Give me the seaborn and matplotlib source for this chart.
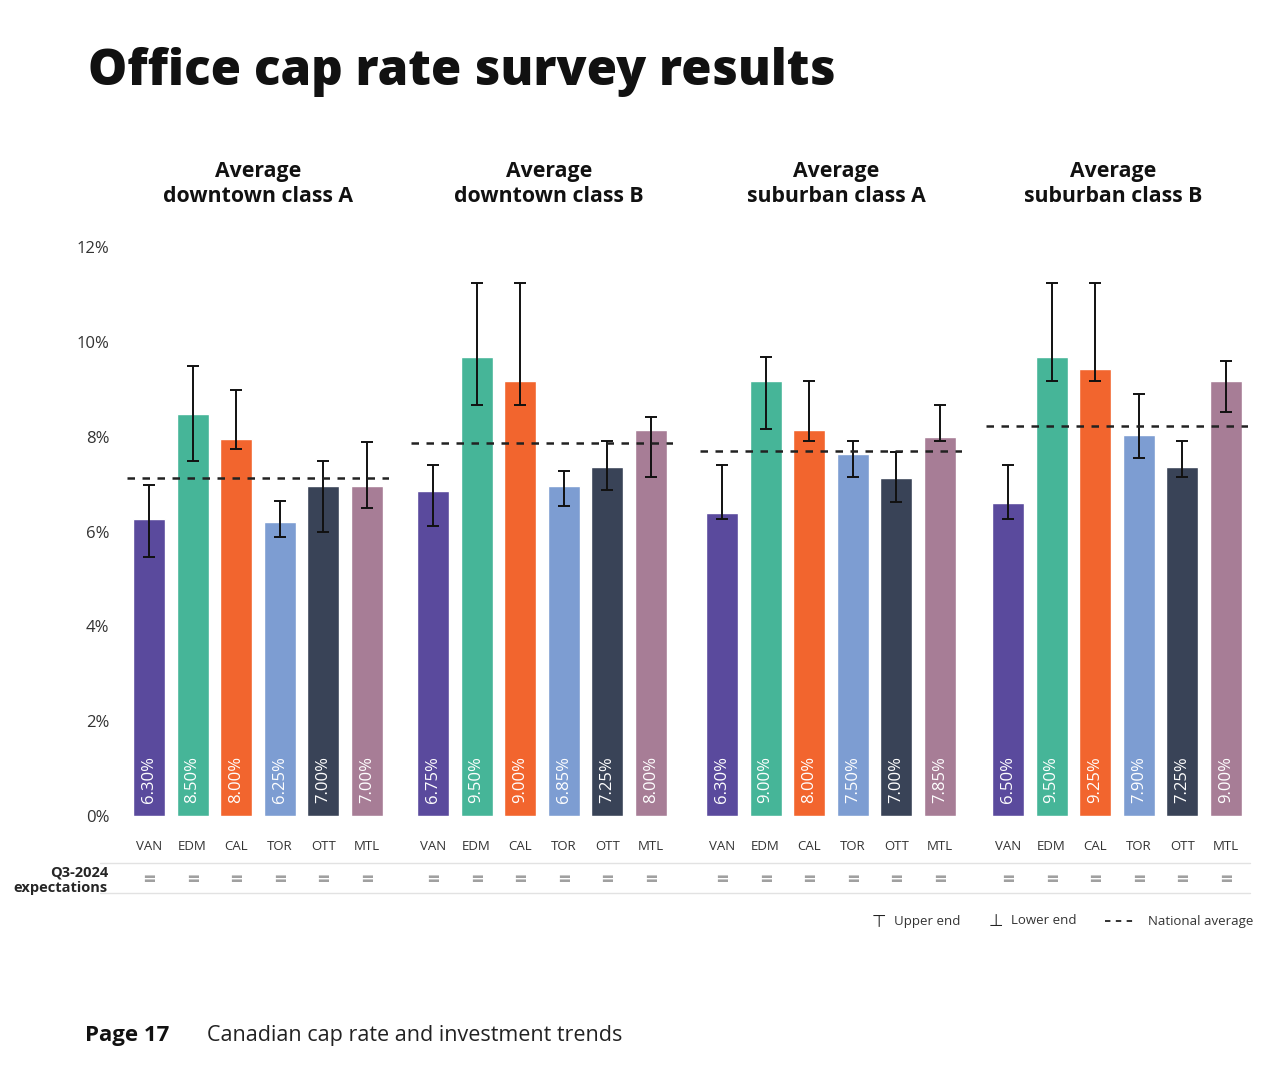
import pandas as pd
import matplotlib.pyplot as plt
from matplotlib.lines import Line2D
import seaborn as sns

sns.set_style('white')
plt.rcParams['font.family'] = ['Open Sans', 'DejaVu Sans']

cities = ['VAN', 'EDM', 'CAL', 'TOR', 'OTT', 'MTL']
colors = ['#5a4a9d', '#46b598', '#f2652e', '#7d9dd2', '#394357', '#a77d96']
groups = ['Average\ndowntown class A', 'Average\ndowntown class B',
          'Average\nsuburban class A', 'Average\nsuburban class B']

# bar heights as drawn in the chart
heights = [
    [6.26, 8.47, 7.96, 6.21, 6.96, 6.96],
    [6.85, 9.67, 9.17, 6.97, 7.37, 8.15],
    [6.40, 9.17, 8.15, 7.63, 7.13, 7.99],
    [6.61, 9.67, 9.43, 8.03, 7.37, 9.17],
]
labels = [
    ['6.30%', '8.50%', '8.00%', '6.25%', '7.00%', '7.00%'],
    ['6.75%', '9.50%', '9.00%', '6.85%', '7.25%', '8.00%'],
    ['6.30%', '9.00%', '8.00%', '7.50%', '7.00%', '7.85%'],
    ['6.50%', '9.50%', '9.25%', '7.90%', '7.25%', '9.00%'],
]
upper = [
    [6.98, 9.49, 8.98, 6.64, 7.49, 7.89],
    [7.40, 11.24, 11.24, 7.28, 7.91, 8.41],
    [7.40, 9.69, 9.18, 7.91, 7.67, 8.67],
    [7.40, 11.24, 11.24, 8.91, 7.91, 9.60],
]
lower = [
    [5.46, 7.49, 7.73, 5.88, 5.99, 6.49],
    [6.12, 8.67, 8.67, 6.53, 6.87, 7.14],
    [6.26, 8.17, 7.91, 7.14, 6.62, 7.91],
    [6.26, 9.18, 9.18, 7.55, 7.14, 8.51],
]
national = [7.12, 7.86, 7.70, 8.23]
expectations = ['='] * 6

W, H = 1280, 1069
fig = plt.figure(figsize=(12.8, 10.69), dpi=100)

lefts = [127.2, 411.2, 700.2, 986.2]
title_x = [258, 549, 836, 1113]
ax_w = 261.6
ax_bottom, ax_top = 816, 247

for g in range(4):
    ax = fig.add_axes([lefts[g] / W, (H - ax_bottom) / H, ax_w / W, (ax_bottom - ax_top) / H])
    df = pd.DataFrame({'city': cities, 'rate': heights[g]})
    sns.barplot(data=df, x='city', y='rate', hue='city', palette=colors,
                legend=False, width=0.73, errorbar=None, ax=ax, saturation=1)
    ax.errorbar(range(6), heights[g],
                yerr=[[h - lo for h, lo in zip(heights[g], lower[g])],
                      [up - h for h, up in zip(heights[g], upper[g])]],
                fmt='none', ecolor='#111111', elinewidth=1.4, capsize=4.5, capthick=1.4)
    ax.axhline(national[g], color='#222222', linestyle=(0, (3, 3)), linewidth=1.8)
    for i, lab in enumerate(labels[g]):
        ax.text(i, 0.28, lab, rotation=90, ha='center', va='bottom',
                color='white', fontsize=12)
        ax.text(i, -1.37, expectations[i], ha='center', va='center',
                color='#a0a0a0', fontsize=15, fontweight='bold', clip_on=False)
    ax.set_xlim(-0.5, 5.5)
    ax.set_ylim(0, 12)
    ax.set_xlabel('')
    ax.set_ylabel('')
    ax.tick_params(axis='x', length=0, pad=17, labelsize=9.5, labelcolor='#333333')
    if g == 0:
        ax.set_yticks([0, 2, 4, 6, 8, 10, 12])
        ax.set_yticklabels([f'{t}%' for t in [0, 2, 4, 6, 8, 10, 12]])
        ax.tick_params(axis='y', length=0, pad=13, labelsize=12, labelcolor='#333333')
    else:
        ax.set_yticks([])
    sns.despine(ax=ax, left=True, bottom=True)
    fig.text(title_x[g] / W, (H - 184) / H, groups[g], ha='center', va='center',
             fontsize=15.3, fontweight='bold', linespacing=1.2, color='#111111')

# expectations row
for yy in [863, 893]:
    fig.add_artist(Line2D([100 / W, 1250 / W], [(H - yy) / H] * 2,
                          color='#e2e2e2', linewidth=1))
fig.text(108 / W, (H - 880) / H, 'Q3-2024\nexpectations', ha='right', va='center',
         fontsize=10.5, fontweight='bold', linespacing=1.1)

# legend
ly = (H - 921) / H
fig.text(879 / W, ly, '⊤', ha='center', va='center', fontsize=12,
         family=['DejaVu Sans'], color='#222222')
fig.text(894 / W, ly, 'Upper end', ha='left', va='center', fontsize=9.5, color='#333333')
fig.text(996 / W, ly, '⊥', ha='center', va='center', fontsize=12,
         family=['DejaVu Sans'], color='#222222')
fig.text(1011 / W, ly, 'Lower end', ha='left', va='center', fontsize=9.5, color='#333333')
fig.add_artist(Line2D([1105 / W, 1135 / W], [ly, ly], color='#222222',
                      linestyle=(0, (3, 3)), linewidth=1.3))
fig.text(1148 / W, ly, 'National average', ha='left', va='center', fontsize=9.5, color='#333333')

# title and footer
fig.text(88 / W, (H - 72) / H, 'Office cap rate survey results', ha='left', va='center',
         fontsize=35.5, fontweight='heavy', color='#111111')
fig.text(85 / W, (H - 1036) / H, 'Page 17', ha='left', va='center',
         fontsize=16, fontweight='bold', color='#111111')
fig.text(207 / W, (H - 1036) / H, 'Canadian cap rate and investment trends', ha='left',
         va='center', fontsize=15.5, color='#222222')

plt.savefig('out.png', dpi=100)
